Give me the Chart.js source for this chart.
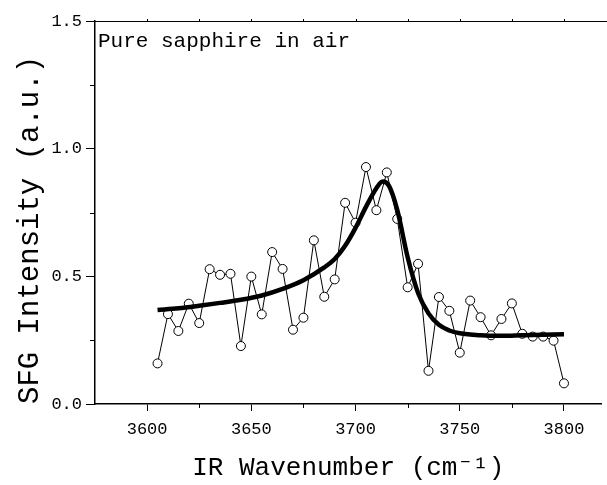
<!DOCTYPE html>
<html>
<head>
<meta charset="utf-8">
<script src="https://cdn.jsdelivr.net/npm/chart.js@4"></script>
<style>
  body { margin: 0; background: #fff; }
  canvas { display: block; }
</style>
</head>
<body>
<canvas id="sfgChart" width="607" height="485"></canvas>
<script>
// measured spectrum (open circles)
const wavenumbers = [3605, 3610, 3615, 3620, 3625, 3630, 3635, 3640, 3645, 3650,
    3655, 3660, 3665, 3670, 3675, 3680, 3685, 3690, 3695, 3700,
    3705, 3710, 3715, 3720, 3725, 3730, 3735, 3740, 3745, 3750,
    3755, 3760, 3765, 3770, 3775, 3780, 3785, 3790, 3795, 3800];
const intensity = [0.159, 0.352, 0.286, 0.393, 0.317, 0.528, 0.506, 0.510, 0.227, 0.499,
    0.351, 0.595, 0.529, 0.291, 0.338, 0.641, 0.420, 0.488, 0.788, 0.710,
    0.928, 0.759, 0.907, 0.725, 0.457, 0.549, 0.130, 0.419, 0.365, 0.201,
    0.405, 0.340, 0.269, 0.333, 0.394, 0.275, 0.264, 0.264, 0.248, 0.081];

// fitted curve (thick line)
const fitWavenumbers = [3605, 3615, 3625, 3635, 3645, 3655, 3665, 3675, 3685, 3690,
    3695, 3700, 3705, 3710, 3713, 3716, 3720, 3725, 3730, 3735,
    3740, 3745, 3750, 3760, 3770, 3780, 3790, 3800];
const fitIntensity = [0.368, 0.375, 0.385, 0.396, 0.408, 0.425, 0.451, 0.485, 0.535, 0.568,
    0.620, 0.690, 0.772, 0.845, 0.871, 0.855, 0.760, 0.575, 0.435, 0.355,
    0.310, 0.288, 0.277, 0.269, 0.267, 0.269, 0.271, 0.273];

// axis ticks
const xTickValues = [3600, 3625, 3650, 3675, 3700, 3725, 3750, 3775, 3800];
const xLabelValues = [3600, 3650, 3700, 3750, 3800];
const yTickValues = [0, 0.25, 0.5, 0.75, 1.0, 1.25, 1.5];
const yLabelValues = [0, 0.5, 1.0, 1.5];

const panelLabel = 'Pure sapphire in air';
const xTitle = 'IR Wavenumber (cm\u207B\u00B9)';
const yTitle = 'SFG Intensity (a.u.)';

const monoFont = "'Liberation Mono', 'DejaVu Sans Mono', monospace";

const measuredPoints = wavenumbers.map((w, i) => ({ x: w, y: intensity[i] }));
const fitPoints = fitWavenumbers.map((w, i) => ({ x: w, y: fitIntensity[i] }));

// minor ticks, top frame line and the panel label
const framePlugin = {
    id: 'frame',
    afterDraw(chart) {
        const ctx = chart.ctx;
        const area = chart.chartArea;
        const xs = chart.scales.x;
        const ys = chart.scales.y;
        ctx.save();
        ctx.strokeStyle = '#000';
        ctx.lineWidth = 1;

        // minor x ticks (short, outward)
        xTickValues.filter(v => !xLabelValues.includes(v)).forEach(v => {
            const px = Math.round(xs.getPixelForValue(v)) + 0.5;
            ctx.beginPath();
            ctx.moveTo(px, area.bottom);
            ctx.lineTo(px, area.bottom + 4);
            ctx.stroke();
        });
        // minor y ticks
        yTickValues.filter(v => !yLabelValues.includes(v)).forEach(v => {
            const py = Math.round(ys.getPixelForValue(v)) + 0.5;
            ctx.beginPath();
            ctx.moveTo(area.left, py);
            ctx.lineTo(area.left - 5, py);
            ctx.stroke();
        });

        // top frame line with tiny ticks
        ctx.beginPath();
        ctx.moveTo(area.left, area.top + 0.5);
        ctx.lineTo(chart.width, area.top + 0.5);
        ctx.stroke();
        xTickValues.forEach(v => {
            const px = Math.round(xs.getPixelForValue(v)) + 0.5;
            ctx.beginPath();
            ctx.moveTo(px, area.top);
            ctx.lineTo(px, area.top - 2);
            ctx.stroke();
        });

        // label inside the plot
        ctx.fillStyle = '#000';
        ctx.font = '21px ' + monoFont;
        ctx.textBaseline = 'alphabetic';
        ctx.textAlign = 'left';
        ctx.fillText(panelLabel, area.left + 3, area.top + 26);
        ctx.restore();
    }
};

const ctx = document.getElementById('sfgChart').getContext('2d');
new Chart(ctx, {
    type: 'scatter',
    data: {
        datasets: [{
            label: 'fit',
            data: fitPoints,
            showLine: true,
            borderColor: '#000',
            borderWidth: 4.5,
            pointRadius: 0,
            cubicInterpolationMode: 'monotone',
            order: 0
        }, {
            label: 'measured',
            data: measuredPoints,
            showLine: true,
            borderColor: '#000',
            borderWidth: 1,
            pointRadius: 4.5,
            pointBorderWidth: 1,
            pointBorderColor: '#000',
            pointBackgroundColor: '#fff',
            order: 1
        }]
    },
    options: {
        responsive: false,
        animation: false,
        devicePixelRatio: 1,
        layout: { padding: { top: 21, right: 1, left: 0, bottom: 0 } },
        plugins: {
            legend: { display: false },
            tooltip: { enabled: false }
        },
        scales: {
            x: {
                type: 'linear',
                min: 3575,
                max: 3818,
                afterBuildTicks: scale => {
                    scale.ticks = xTickValues.map(v => ({ value: v }));
                },
                afterFit: scale => { scale.height = 81; },
                border: { display: true, color: '#000', width: 1.5 },
                grid: {
                    drawOnChartArea: false,
                    drawTicks: true,
                    tickLength: 7,
                    tickWidth: 1,
                    tickColor: c => (c.tick && xLabelValues.includes(c.tick.value)) ? '#000' : 'rgba(0,0,0,0)'
                },
                ticks: {
                    autoSkip: false,
                    maxRotation: 0,
                    padding: 8,
                    color: '#000',
                    font: { family: monoFont, size: 17 },
                    callback: v => xLabelValues.includes(v) ? String(v) : ''
                },
                title: {
                    display: true,
                    text: xTitle,
                    color: '#000',
                    font: { family: monoFont, size: 26 },
                    padding: { top: 0, bottom: 1 }
                }
            },
            y: {
                type: 'linear',
                min: 0,
                max: 1.5,
                afterBuildTicks: scale => {
                    scale.ticks = yTickValues.map(v => ({ value: v }));
                },
                afterFit: scale => { scale.width = 95; },
                border: { display: true, color: '#000', width: 1.5 },
                grid: {
                    drawOnChartArea: false,
                    drawTicks: true,
                    tickLength: 9,
                    tickWidth: 1,
                    tickColor: c => (c.tick && yLabelValues.includes(c.tick.value)) ? '#000' : 'rgba(0,0,0,0)'
                },
                ticks: {
                    autoSkip: false,
                    padding: 4,
                    color: '#000',
                    font: { family: monoFont, size: 17 },
                    callback: v => yLabelValues.includes(v) ? v.toFixed(1) : ''
                },
                title: {
                    display: true,
                    text: yTitle,
                    align: 'start',
                    color: '#000',
                    font: { family: monoFont, size: 29 },
                    padding: { top: 13, bottom: 0 }
                }
            }
        }
    },
    plugins: [framePlugin]
});
</script>
</body>
</html>
